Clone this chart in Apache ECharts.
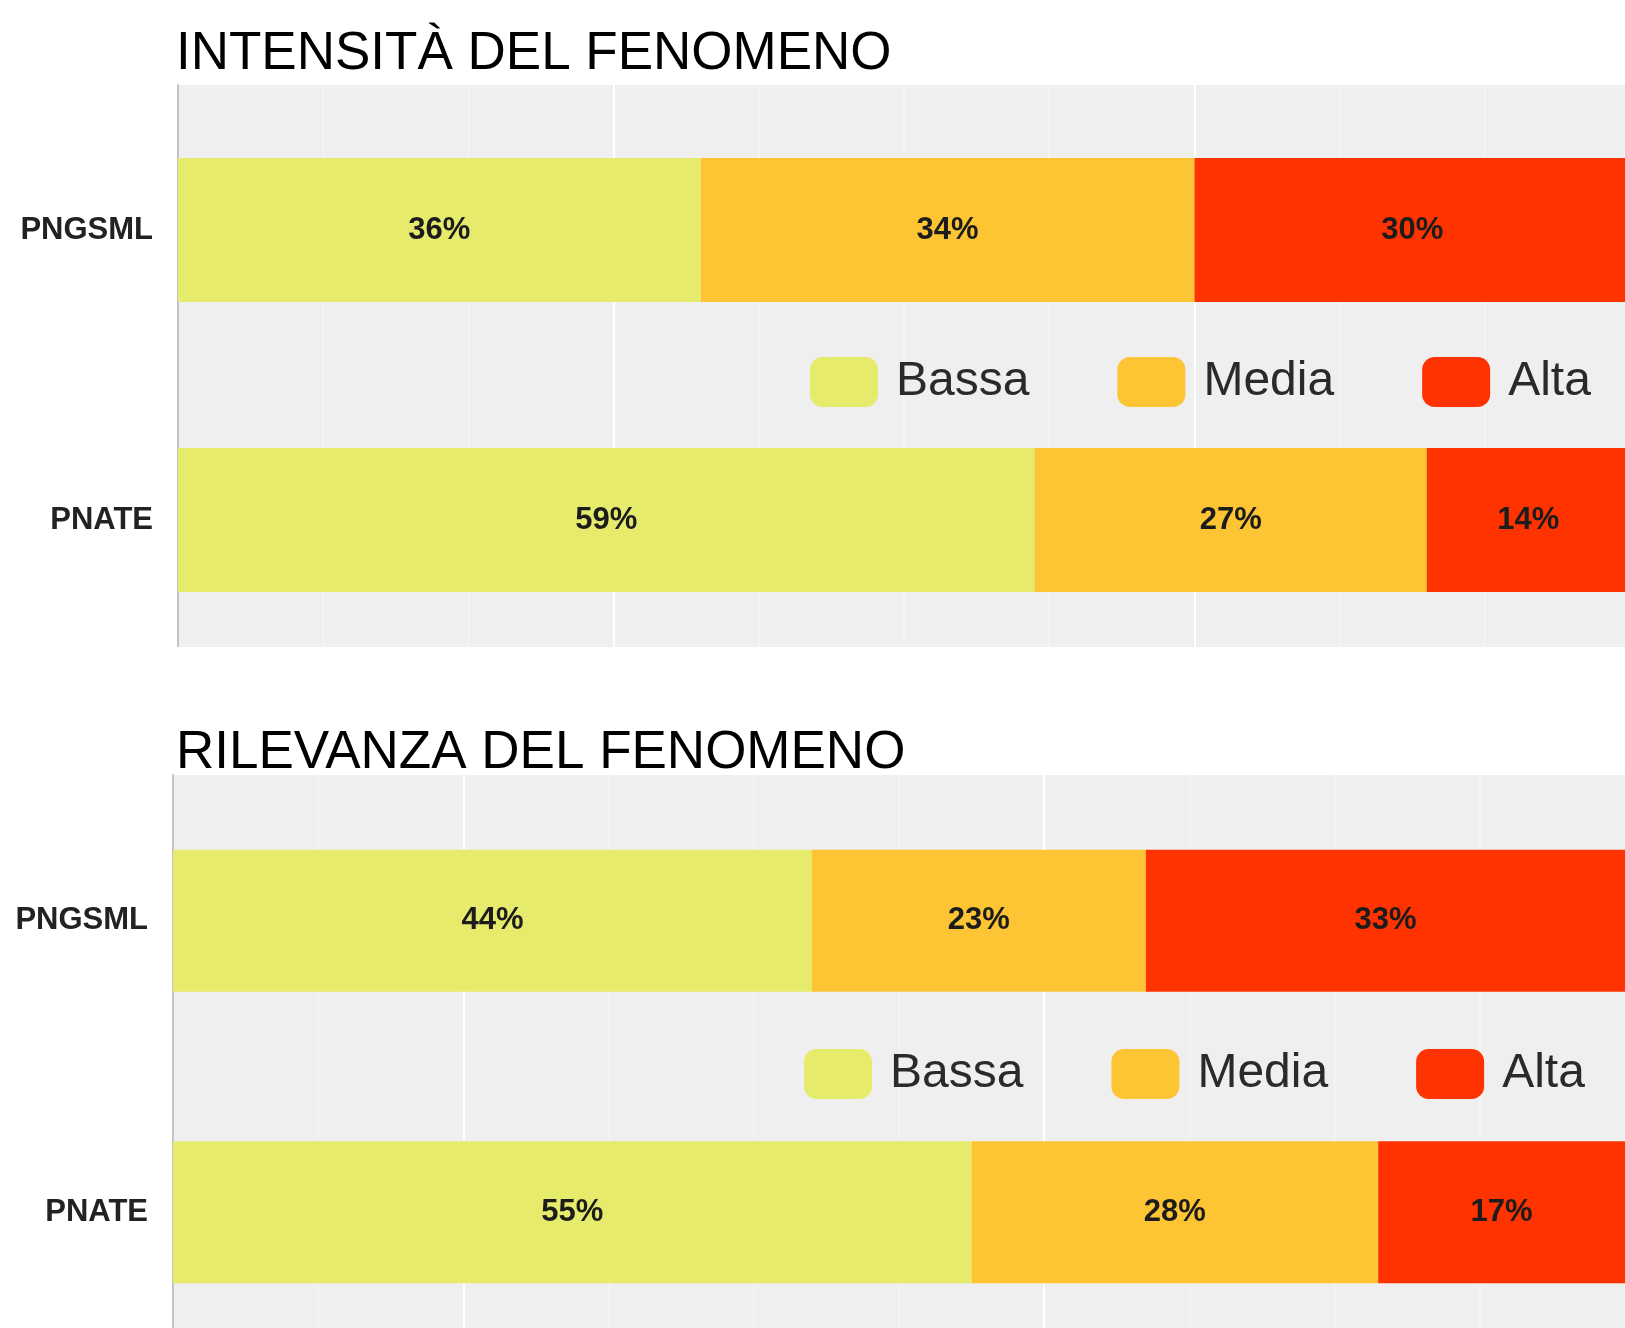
<!DOCTYPE html>
<html>
<head>
<meta charset="utf-8">
<script src="https://cdn.jsdelivr.net/npm/echarts@6/dist/echarts.min.js"></script>
<style>
html,body{margin:0;padding:0;background:#ffffff;}
#chart{width:1625px;height:1328px;}
</style>
</head>
<body>
<div id="chart"></div>
<script>
// ---- data ----
const categories = ['PNGSML', 'PNATE'];
const seriesNames = ['Bassa', 'Media', 'Alta'];
const chartTitles = ['INTENSITÀ DEL FENOMENO', 'RILEVANZA DEL FENOMENO'];

const intensitaBassa = [36, 59];
const intensitaMedia = [34, 27];
const intensitaAlta  = [30, 14];

const rilevanzaBassa = [44, 55];
const rilevanzaMedia = [23, 28];
const rilevanzaAlta  = [33, 17];

const xTickStep = 10;
const topBrightTicks = [30, 70];
const bottomBrightTicks = [20, 60];

// ---- styles ----
const colors = ['#e7eb6b', '#fdc533', '#ff3300'];
const plotBg = '#efefef';
const labelFont = '"Liberation Sans", Arial, sans-serif';

function splitColors(bright) {
  const arr = [];
  for (let v = 0; v <= 100; v += xTickStep) {
    arr.push(bright.indexOf(v) >= 0 ? '#ffffff' : '#f3f3f3');
  }
  return arr;
}

function xAxisCfg(gridIndex, bright) {
  return {
    gridIndex: gridIndex, type: 'value', min: 0, max: 100, interval: xTickStep,
    axisLabel: {show: false}, axisTick: {show: false}, axisLine: {show: false},
    splitLine: {show: true, lineStyle: {color: splitColors(bright), width: 2}}
  };
}
function yAxisCfg(gridIndex) {
  return {
    gridIndex: gridIndex, type: 'category', data: categories, inverse: true,
    axisTick: {show: false},
    axisLine: {show: true, lineStyle: {color: '#c4c4c4', width: 2}},
    splitLine: {show: false},
    axisLabel: {margin: 25, color: '#222222', fontSize: 31, fontWeight: 'bold', fontFamily: labelFont}
  };
}
function makeSeries(name, data, idx, color, stack, barW) {
  return {
    name: name, type: 'bar', stack: stack, data: data,
    xAxisIndex: idx, yAxisIndex: idx, barWidth: barW,
    itemStyle: {color: color},
    label: {show: true, position: 'inside', formatter: '{c}%', color: '#1c1c1c',
            fontSize: 31, fontWeight: 'bold', fontFamily: labelFont},
    emphasis: {disabled: true}
  };
}
function legendCfg(left, top) {
  return {
    data: seriesNames, left: left, top: top, orient: 'horizontal', padding: 0,
    itemWidth: 68, itemHeight: 50, itemGap: 88, icon: 'roundRect', selectedMode: false,
    textStyle: {fontSize: 48, color: '#2a2a2a', fontFamily: labelFont, padding: [0, 0, 0, 13]}
  };
}

const chart = echarts.init(document.getElementById('chart'), null, {renderer: 'canvas'});
const option = {
  backgroundColor: '#ffffff',
  animation: false,
  title: [
    {text: chartTitles[0], left: 176, top: 28, padding: 0,
     textStyle: {fontSize: 53, fontWeight: 'normal', color: '#000000', fontFamily: labelFont}},
    {text: chartTitles[1], left: 176, top: 727, padding: 0,
     textStyle: {fontSize: 53, fontWeight: 'normal', color: '#000000', fontFamily: labelFont}}
  ],
  legend: [legendCfg(810, 357), legendCfg(804, 1049)],
  grid: [
    {left: 178, top: 85, width: 1452, height: 580, show: true, backgroundColor: plotBg, borderWidth: 0,
     outerBoundsMode: 'none', containLabel: false},
    {left: 173, top: 775, width: 1452, height: 583, show: true, backgroundColor: plotBg, borderWidth: 0,
     outerBoundsMode: 'none', containLabel: false}
  ],
  xAxis: [xAxisCfg(0, topBrightTicks), xAxisCfg(1, bottomBrightTicks)],
  yAxis: [yAxisCfg(0), yAxisCfg(1)],
  series: [
    makeSeries(seriesNames[0], intensitaBassa, 0, colors[0], 'top', 144),
    makeSeries(seriesNames[1], intensitaMedia, 0, colors[1], 'top', 144),
    makeSeries(seriesNames[2], intensitaAlta, 0, colors[2], 'top', 144),
    makeSeries(seriesNames[0], rilevanzaBassa, 1, colors[0], 'bottom', 142),
    makeSeries(seriesNames[1], rilevanzaMedia, 1, colors[1], 'bottom', 142),
    makeSeries(seriesNames[2], rilevanzaAlta, 1, colors[2], 'bottom', 142)
  ],
  graphic: [
    {type: 'rect', left: 0, top: 647, z: 100, shape: {width: 1625, height: 22}, style: {fill: '#ffffff'}}
  ]
};
chart.setOption(option);
</script>
</body>
</html>
